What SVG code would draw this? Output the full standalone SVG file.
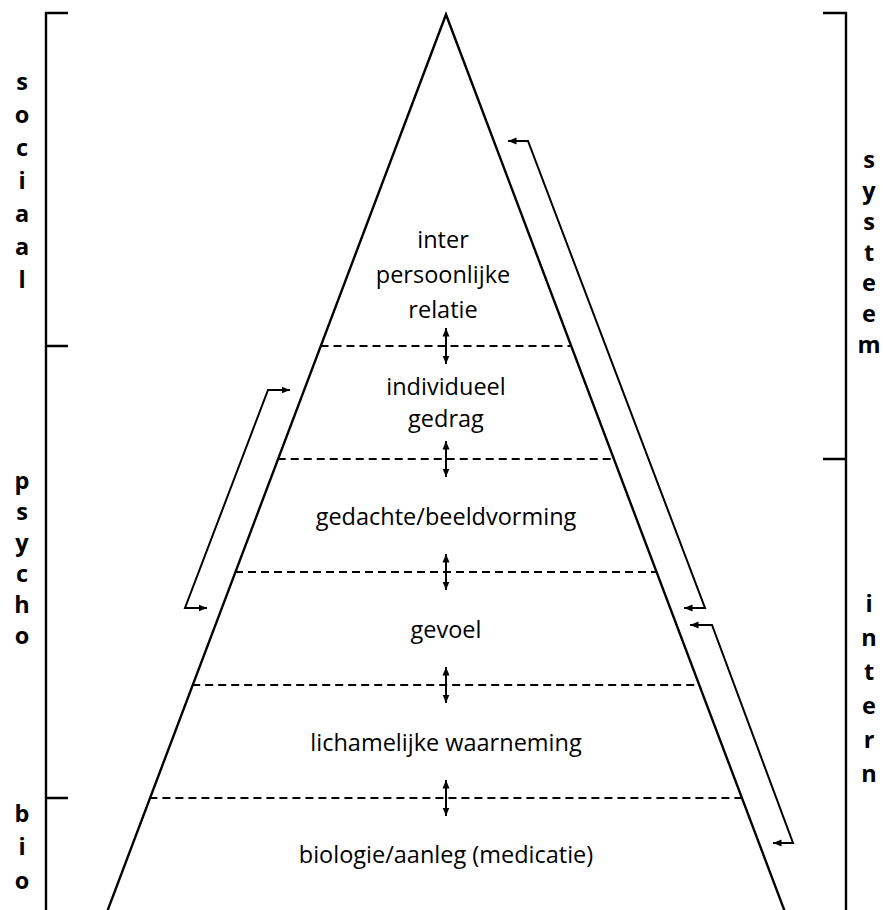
<svg xmlns="http://www.w3.org/2000/svg" width="883" height="910" viewBox="0 0 883 910">
<style>
  .ln{fill:none;stroke:#000;stroke-width:2.4;stroke-linejoin:miter;stroke-miterlimit:10}
  .br{fill:none;stroke:#000;stroke-width:2.4}
  .dash{fill:none;stroke:#000;stroke-width:2;stroke-dasharray:8 5}
  .arr{fill:none;stroke:#000;stroke-width:2;marker-start:url(#ah);marker-end:url(#ah)}
  .lbl{font-family:"Open Sans","Noto Sans","Liberation Sans",sans-serif;font-size:23.5px;fill:#000;text-anchor:middle}
  .side{font-family:"Open Sans","Noto Sans","Liberation Sans",sans-serif;font-size:23.5px;font-weight:bold;fill:#000;text-anchor:middle}
</style>
<defs>
  <marker id="ah" markerUnits="userSpaceOnUse" markerWidth="9" markerHeight="8" refX="8.5" refY="4" orient="auto-start-reverse">
    <path d="M0,0.5 L8.5,4 L0,7.5 z" fill="#000"/>
  </marker>
</defs>
<rect width="883" height="910" fill="#fff"/>

<g id="pyramid">
  <polyline class="ln" points="107,912 446,14.5 785,912"/>
</g>

<g id="bracket-left">
  <path class="br" d="M68,13 H46 V910 M46,346 H68 M46,798 H68"/>
  <text id="lbl-sociaal" class="side"><tspan x="22" y="90">s</tspan><tspan x="22" y="123">o</tspan><tspan x="22" y="156">c</tspan><tspan x="22" y="189">i</tspan><tspan x="22" y="222">a</tspan><tspan x="22" y="255">a</tspan><tspan x="22" y="288">l</tspan></text>
  <text id="lbl-psycho" class="side"><tspan x="22" y="489">p</tspan><tspan x="22" y="520">s</tspan><tspan x="22" y="551">y</tspan><tspan x="22" y="582">c</tspan><tspan x="22" y="613">h</tspan><tspan x="22" y="644">o</tspan></text>
  <text id="lbl-bio" class="side"><tspan x="22" y="822">b</tspan><tspan x="22" y="855">i</tspan><tspan x="22" y="889">o</tspan></text>
</g>

<g id="bracket-right">
  <path class="br" d="M823,13 H846 V910 M823,459 H846"/>
  <text id="lbl-systeem" class="side"><tspan x="869" y="168">s</tspan><tspan x="869" y="199">y</tspan><tspan x="869" y="230">s</tspan><tspan x="869" y="261">t</tspan><tspan x="869" y="291">e</tspan><tspan x="869" y="322">e</tspan><tspan x="869" y="353">m</tspan></text>
  <text id="lbl-intern" class="side"><tspan x="869" y="612">i</tspan><tspan x="869" y="646">n</tspan><tspan x="869" y="680">t</tspan><tspan x="869" y="714">e</tspan><tspan x="869" y="748">r</tspan><tspan x="869" y="782">n</tspan></text>
</g>

<g id="node-interpersoonlijk">
  <text class="lbl"><tspan x="443" y="248">inter</tspan><tspan x="443" y="283">persoonlijke</tspan><tspan x="443" y="318">relatie</tspan></text>
</g>
<g id="node-gedrag">
  <text class="lbl"><tspan x="446" y="395">individueel</tspan><tspan x="446" y="427">gedrag</tspan></text>
</g>
<g id="node-gedachte">
  <text class="lbl" x="446" y="525">gedachte/beeldvorming</text>
</g>
<g id="node-gevoel">
  <text class="lbl" x="446" y="638">gevoel</text>
</g>
<g id="node-waarneming">
  <text class="lbl" x="446" y="751">lichamelijke waarneming</text>
</g>
<g id="node-biologie">
  <text class="lbl" x="446" y="863">biologie/aanleg (medicatie)</text>
</g>

<g id="connectors">
  <path class="dash" d="M320.5,346 H571.5"/>
  <path class="dash" d="M277.7,459 H614.3"/>
  <path class="dash" d="M235,572 H657"/>
  <path class="dash" d="M192.2,685 H699.8"/>
  <path class="dash" d="M149.4,798 H742.6"/>
  <path class="arr" d="M446,328 V364"/>
  <path class="arr" d="M446,441 V477"/>
  <path class="arr" d="M446,554 V590"/>
  <path class="arr" d="M446,667 V703"/>
  <path class="arr" d="M446,780 V816"/>
  <path class="arr" d="M290,390 H268 L185,608 H207"/>
  <path class="arr" d="M508,141 H528 L705,608 H684"/>
  <path class="arr" d="M690,625 H712 L793,843 H773"/>
</g>
</svg>
